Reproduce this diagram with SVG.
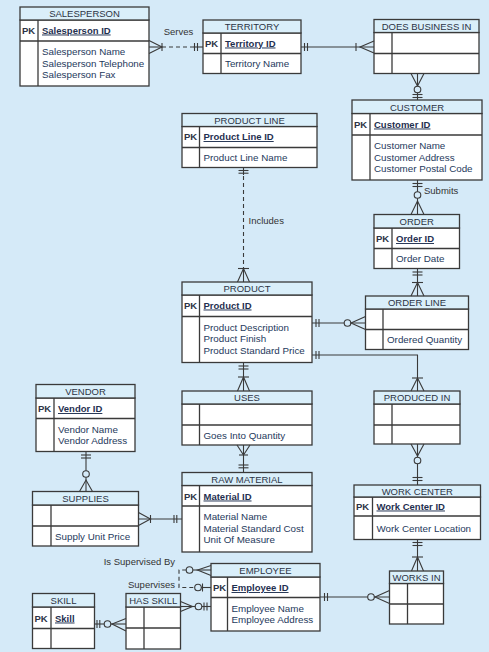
<svg xmlns="http://www.w3.org/2000/svg" width="489" height="652" viewBox="0 0 489 652">
<style>
.bx{fill:#fff;stroke:#3a3a3a;stroke-width:1.3}
.hd{fill:#daeffa;stroke:#3a3a3a;stroke-width:1.3}
.ln{stroke:#3a3a3a;stroke-width:1.3}
text{font-family:"Liberation Sans",Arial,sans-serif}
.h{font-size:9.5px;fill:#2c3345;text-anchor:middle}
.pk{font-size:9.5px;font-weight:bold;fill:#2c3345}
.id{font-size:9.5px;font-weight:bold;fill:#1f3050;text-decoration:underline}
.t{font-size:9.8px;fill:#25395c}
.lb{font-size:9.5px;fill:#333}
.c line,.c path{stroke:#3a3a3a;stroke-width:1.1;fill:none}
.c circle{stroke:#3a3a3a;stroke-width:1.1;fill:#d5eaf8}
.c .d{stroke-dasharray:4 3}
</style>
<rect x="0" y="0" width="489" height="652" fill="#d5eaf8"/>

<g id="salesperson">
<rect class="bx" x="20" y="20" width="129" height="66"/>
<rect class="hd" x="20" y="7" width="129" height="13"/>
<line class="ln" x1="20" y1="41" x2="149" y2="41"/>
<line class="ln" x1="38" y1="20" x2="38" y2="86"/>
<text class="h" x="84.5" y="17">SALESPERSON</text>
<text class="pk" x="22" y="33.5">PK</text>
<text class="id" x="42" y="33.5">Salesperson ID</text>
<text class="t" x="42" y="55">Salesperson Name</text>
<text class="t" x="42" y="66.7">Salesperson Telephone</text>
<text class="t" x="42" y="78.4">Salesperson Fax</text>
</g>

<g id="territory">
<rect class="bx" x="203" y="33" width="98" height="40.5"/>
<rect class="hd" x="203" y="20" width="98" height="13"/>
<line class="ln" x1="203" y1="53.5" x2="301" y2="53.5"/>
<line class="ln" x1="221" y1="33" x2="221" y2="73.5"/>
<text class="h" x="252" y="30">TERRITORY</text>
<text class="pk" x="205" y="46.5">PK</text>
<text class="id" x="225" y="46.5">Territory ID</text>
<text class="t" x="225" y="67">Territory Name</text>
</g>

<g id="does-business-in">
<rect class="bx" x="374" y="32.5" width="105" height="41"/>
<rect class="hd" x="374" y="19.5" width="105" height="13"/>
<line class="ln" x1="374" y1="53.5" x2="479" y2="53.5"/>
<line class="ln" x1="392" y1="32.5" x2="392" y2="73.5"/>
<text class="h" x="426.5" y="29.5">DOES BUSINESS IN</text>
</g>

<g id="customer">
<rect class="bx" x="352" y="113.5" width="130" height="66.5"/>
<rect class="hd" x="352" y="100" width="130" height="13.5"/>
<line class="ln" x1="352" y1="135" x2="482" y2="135"/>
<line class="ln" x1="370" y1="113.5" x2="370" y2="180"/>
<text class="h" x="417" y="110.5">CUSTOMER</text>
<text class="pk" x="354" y="127.5">PK</text>
<text class="id" x="374" y="127.5">Customer ID</text>
<text class="t" x="374" y="149">Customer Name</text>
<text class="t" x="374" y="160.7">Customer Address</text>
<text class="t" x="374" y="172.4">Customer Postal Code</text>
</g>

<g id="product-line">
<rect class="bx" x="182" y="126.5" width="135" height="41"/>
<rect class="hd" x="182" y="113.5" width="135" height="13"/>
<line class="ln" x1="182" y1="147.5" x2="317" y2="147.5"/>
<line class="ln" x1="199.5" y1="126.5" x2="199.5" y2="167.5"/>
<text class="h" x="249.5" y="123.5">PRODUCT LINE</text>
<text class="pk" x="184" y="140">PK</text>
<text class="id" x="203.5" y="140">Product Line ID</text>
<text class="t" x="203.5" y="161">Product Line Name</text>
</g>

<g id="order">
<rect class="bx" x="374" y="228" width="85.5" height="40.5"/>
<rect class="hd" x="374" y="214.5" width="85.5" height="13.5"/>
<line class="ln" x1="374" y1="248.5" x2="459.5" y2="248.5"/>
<line class="ln" x1="392" y1="228" x2="392" y2="268.5"/>
<text class="h" x="416.75" y="225">ORDER</text>
<text class="pk" x="376" y="242">PK</text>
<text class="id" x="396" y="242">Order ID</text>
<text class="t" x="396" y="262">Order Date</text>
</g>

<g id="order-line">
<rect class="bx" x="365.5" y="309" width="103" height="40.5"/>
<rect class="hd" x="365.5" y="296" width="103" height="13"/>
<line class="ln" x1="365.5" y1="329.5" x2="468.5" y2="329.5"/>
<line class="ln" x1="383" y1="309" x2="383" y2="349.5"/>
<text class="h" x="417" y="306">ORDER LINE</text>
<text class="t" x="387" y="343">Ordered Quantity</text>
</g>

<g id="product">
<rect class="bx" x="182" y="295" width="130" height="67.5"/>
<rect class="hd" x="182" y="282" width="130" height="13"/>
<line class="ln" x1="182" y1="316.5" x2="312" y2="316.5"/>
<line class="ln" x1="199.5" y1="295" x2="199.5" y2="362.5"/>
<text class="h" x="247" y="292">PRODUCT</text>
<text class="pk" x="184" y="308.5">PK</text>
<text class="id" x="203.5" y="308.5">Product ID</text>
<text class="t" x="203.5" y="330.5">Product Description</text>
<text class="t" x="203.5" y="342.2">Product Finish</text>
<text class="t" x="203.5" y="353.9">Product Standard Price</text>
</g>

<g id="uses">
<rect class="bx" x="182" y="404" width="130" height="41"/>
<rect class="hd" x="182" y="391" width="130" height="13"/>
<line class="ln" x1="182" y1="425" x2="312" y2="425"/>
<line class="ln" x1="199.5" y1="404" x2="199.5" y2="445"/>
<text class="h" x="247" y="401">USES</text>
<text class="t" x="203.5" y="438.5">Goes Into Quantity</text>
</g>

<g id="produced-in">
<rect class="bx" x="374" y="404" width="86" height="40"/>
<rect class="hd" x="374" y="391" width="86" height="13"/>
<line class="ln" x1="374" y1="425" x2="460" y2="425"/>
<line class="ln" x1="392" y1="404" x2="392" y2="444"/>
<text class="h" x="417" y="401">PRODUCED IN</text>
</g>

<g id="vendor">
<rect class="bx" x="36" y="398" width="99" height="53.5"/>
<rect class="hd" x="36" y="384.5" width="99" height="13.5"/>
<line class="ln" x1="36" y1="418.5" x2="135" y2="418.5"/>
<line class="ln" x1="54" y1="398" x2="54" y2="451.5"/>
<text class="h" x="85.5" y="395">VENDOR</text>
<text class="pk" x="38" y="412">PK</text>
<text class="id" x="58" y="412">Vendor ID</text>
<text class="t" x="58" y="432.5">Vendor Name</text>
<text class="t" x="58" y="444.2">Vendor Address</text>
</g>

<g id="supplies">
<rect class="bx" x="32.5" y="505" width="106" height="41"/>
<rect class="hd" x="32.5" y="491.5" width="106" height="13.5"/>
<line class="ln" x1="32.5" y1="526" x2="138.5" y2="526"/>
<line class="ln" x1="51" y1="505" x2="51" y2="546"/>
<text class="h" x="85.5" y="502">SUPPLIES</text>
<text class="t" x="55" y="539.5">Supply Unit Price</text>
</g>

<g id="raw-material">
<rect class="bx" x="182" y="485.5" width="130" height="66.5"/>
<rect class="hd" x="182" y="472.5" width="130" height="13"/>
<line class="ln" x1="182" y1="506" x2="312" y2="506"/>
<line class="ln" x1="199.5" y1="485.5" x2="199.5" y2="552"/>
<text class="h" x="247" y="482.5">RAW MATERIAL</text>
<text class="pk" x="184" y="499.5">PK</text>
<text class="id" x="203.5" y="499.5">Material ID</text>
<text class="t" x="203.5" y="520">Material Name</text>
<text class="t" x="203.5" y="531.7">Material Standard Cost</text>
<text class="t" x="203.5" y="543.4">Unit Of Measure</text>
</g>

<g id="work-center">
<rect class="bx" x="354" y="497" width="126.5" height="42.5"/>
<rect class="hd" x="354" y="485" width="126.5" height="12"/>
<line class="ln" x1="354" y1="516" x2="480.5" y2="516"/>
<line class="ln" x1="372.5" y1="497" x2="372.5" y2="539.5"/>
<text class="h" x="417.25" y="494.5">WORK CENTER</text>
<text class="pk" x="356" y="509.5">PK</text>
<text class="id" x="376.5" y="509.5">Work Center ID</text>
<text class="t" x="376.5" y="532">Work Center Location</text>
</g>

<g id="works-in">
<rect class="bx" x="389.5" y="583.5" width="54" height="40.5"/>
<rect class="hd" x="389.5" y="571" width="54" height="12.5"/>
<line class="ln" x1="389.5" y1="604" x2="443.5" y2="604"/>
<line class="ln" x1="407.5" y1="583.5" x2="407.5" y2="624"/>
<text class="h" x="416.5" y="580.5">WORKS IN</text>
</g>

<g id="employee">
<rect class="bx" x="211" y="577" width="109" height="54"/>
<rect class="hd" x="211" y="563.5" width="109" height="13.5"/>
<line class="ln" x1="211" y1="597.5" x2="320" y2="597.5"/>
<line class="ln" x1="227.5" y1="577" x2="227.5" y2="631"/>
<text class="h" x="265.5" y="574">EMPLOYEE</text>
<text class="pk" x="213" y="591">PK</text>
<text class="id" x="231.5" y="591">Employee ID</text>
<text class="t" x="231.5" y="611.5">Employee Name</text>
<text class="t" x="231.5" y="623.2">Employee Address</text>
</g>

<g id="has-skill">
<rect class="bx" x="126" y="607" width="54.5" height="42"/>
<rect class="hd" x="126" y="593.5" width="54.5" height="13.5"/>
<line class="ln" x1="126" y1="628" x2="180.5" y2="628"/>
<line class="ln" x1="144" y1="607" x2="144" y2="649"/>
<text class="h" x="153.25" y="604">HAS SKILL</text>
</g>

<g id="skill">
<rect class="bx" x="32.5" y="607" width="62" height="41.5"/>
<rect class="hd" x="32.5" y="593.5" width="62" height="13.5"/>
<line class="ln" x1="32.5" y1="628.5" x2="94.5" y2="628.5"/>
<line class="ln" x1="51" y1="607" x2="51" y2="648.5"/>
<text class="h" x="63.5" y="604">SKILL</text>
<text class="pk" x="34.5" y="621.5">PK</text>
<text class="id" x="55" y="621.5">Skill</text>
</g>

<g id="connectors" class="c">
<!-- Serves -->
<line x1="149" y1="47" x2="162" y2="47"/>
<path d="M149,40.5 L162,47 L149,53.5"/>
<line x1="162" y1="43" x2="162" y2="51"/>
<line class="d" x1="162" y1="47" x2="193" y2="47"/>
<line x1="194.5" y1="43" x2="194.5" y2="51"/>
<line x1="197.5" y1="43" x2="197.5" y2="51"/>
<line x1="193" y1="47" x2="203" y2="47"/>
<!-- Territory - DBI -->
<line x1="301" y1="47" x2="374" y2="47"/>
<line x1="304.5" y1="43" x2="304.5" y2="51"/>
<line x1="307.5" y1="43" x2="307.5" y2="51"/>
<line x1="356" y1="43" x2="356" y2="51"/>
<path d="M374,41 L360,47 L374,53"/>
<!-- DBI - Customer -->
<line x1="417.5" y1="73.5" x2="417.5" y2="100"/>
<path d="M411,73.5 L417.5,86 L424,73.5"/>
<circle cx="417.5" cy="89.5" r="3.3"/>
<line x1="412.5" y1="94.5" x2="422.5" y2="94.5"/>
<line x1="412.5" y1="97.5" x2="422.5" y2="97.5"/>
<!-- Customer - Order -->
<line x1="417.5" y1="180" x2="417.5" y2="214.5"/>
<line x1="412.5" y1="183.5" x2="422.5" y2="183.5"/>
<line x1="412.5" y1="186.5" x2="422.5" y2="186.5"/>
<circle cx="417.5" cy="195" r="3.3"/>
<path d="M411,214.5 L417.5,201 L424,214.5"/>
<!-- Order - Order Line -->
<line x1="417.5" y1="268.5" x2="417.5" y2="296"/>
<line x1="412.5" y1="272" x2="422.5" y2="272"/>
<line x1="412.5" y1="275" x2="422.5" y2="275"/>
<line x1="412" y1="282.5" x2="423" y2="282.5"/>
<path d="M411,296 L417.5,282.5 L424,296"/>
<!-- Product - Order Line -->
<line x1="312" y1="323" x2="365.5" y2="323"/>
<line x1="316" y1="319" x2="316" y2="327"/>
<line x1="319" y1="319" x2="319" y2="327"/>
<circle cx="347.5" cy="323" r="3.3"/>
<path d="M365.5,316.5 L351,323 L365.5,329.5"/>
<!-- Product - Produced In -->
<path d="M312,355 H417.5 V391"/>
<line x1="316" y1="351" x2="316" y2="359"/>
<line x1="319" y1="351" x2="319" y2="359"/>
<line x1="412" y1="378" x2="423" y2="378"/>
<path d="M411,391 L417.5,378 L424,391"/>
<!-- Produced In - Work Center -->
<line x1="417.5" y1="444" x2="417.5" y2="485"/>
<path d="M411,444 L417.5,456 L424,444"/>
<circle cx="417.5" cy="460.5" r="3.3"/>
<line x1="412.5" y1="477.5" x2="422.5" y2="477.5"/>
<line x1="412.5" y1="480.5" x2="422.5" y2="480.5"/>
<!-- Work Center - Works In -->
<line x1="417.5" y1="539.5" x2="417.5" y2="571"/>
<line x1="412.5" y1="542.5" x2="422.5" y2="542.5"/>
<line x1="412.5" y1="545.5" x2="422.5" y2="545.5"/>
<line x1="412" y1="557" x2="423" y2="557"/>
<path d="M411.5,571 L417.5,557 L423.5,571"/>
<!-- Employee - Works In -->
<line x1="320" y1="597" x2="389.5" y2="597"/>
<line x1="324.5" y1="593" x2="324.5" y2="601"/>
<line x1="327.5" y1="593" x2="327.5" y2="601"/>
<circle cx="371" cy="597" r="3.3"/>
<path d="M389.5,590.5 L375,597 L389.5,603.5"/>
<!-- Supervises (recursive) -->
<line x1="192.8" y1="570" x2="211" y2="570"/>
<path d="M211,565.5 L197.5,570 L211,575.5"/>
<circle cx="189.5" cy="570" r="3.3"/>
<path class="d" d="M186.2,570 H179 V587.5 H194.7"/>
<circle cx="198" cy="587.5" r="3.3"/>
<line x1="201.3" y1="587.5" x2="211" y2="587.5"/>
<line x1="202.5" y1="583.5" x2="202.5" y2="591.5"/>
<!-- Has Skill - Employee -->
<line x1="180.5" y1="606.5" x2="211" y2="606.5"/>
<path d="M180.5,601.5 L192.5,606.5 L180.5,611.5"/>
<circle cx="198.5" cy="606.5" r="3.3"/>
<line x1="204" y1="602.5" x2="204" y2="610.5"/>
<line x1="207" y1="602.5" x2="207" y2="610.5"/>
<!-- Skill - Has Skill -->
<line x1="94.5" y1="624" x2="126" y2="624"/>
<line x1="97" y1="620" x2="97" y2="628"/>
<line x1="99.8" y1="620" x2="99.8" y2="628"/>
<circle cx="107.5" cy="624" r="3.3"/>
<path d="M126,618.5 L112,624 L126,631"/>
<!-- Vendor - Supplies -->
<line x1="86" y1="451.5" x2="86" y2="491.5"/>
<line x1="81" y1="455" x2="91" y2="455"/>
<line x1="81" y1="458" x2="91" y2="458"/>
<circle cx="86" cy="474" r="3.3"/>
<path d="M79.5,491.5 L86,480 L92.5,491.5"/>
<!-- Supplies - Raw Material -->
<line x1="138.5" y1="519" x2="182" y2="519"/>
<path d="M138.5,512.5 L150.5,519 L138.5,525.5"/>
<line x1="150.5" y1="515" x2="150.5" y2="523"/>
<line x1="174" y1="515" x2="174" y2="523"/>
<line x1="176.8" y1="515" x2="176.8" y2="523"/>
<!-- Product - Uses -->
<line x1="243.5" y1="362.5" x2="243.5" y2="391"/>
<line x1="238.5" y1="366" x2="248.5" y2="366"/>
<line x1="238.5" y1="369" x2="248.5" y2="369"/>
<line x1="238" y1="377" x2="249" y2="377"/>
<path d="M237.5,391 L243.5,377 L249.5,391"/>
<!-- Uses - Raw Material -->
<line x1="243.5" y1="445" x2="243.5" y2="472.5"/>
<path d="M237,445 L243.5,455 L250,445"/>
<line x1="239" y1="455" x2="248" y2="455"/>
<line x1="238.5" y1="465" x2="248.5" y2="465"/>
<line x1="238.5" y1="467.8" x2="248.5" y2="467.8"/>
<!-- Product Line - Product -->
<line x1="243.5" y1="167.5" x2="243.5" y2="175"/>
<line x1="238.5" y1="170.5" x2="248.5" y2="170.5"/>
<line x1="238.5" y1="173.2" x2="248.5" y2="173.2"/>
<line class="d" x1="243.5" y1="176" x2="243.5" y2="268.5"/>
<line x1="238" y1="268.5" x2="249" y2="268.5"/>
<line x1="243.5" y1="268.5" x2="243.5" y2="282"/>
<path d="M237.5,282 L243.5,268.5 L249.5,282"/>
</g>

<g id="labels">
<text class="lb" x="178.5" y="35" text-anchor="middle">Serves</text>
<text class="lb" x="424" y="194">Submits</text>
<text class="lb" x="248.5" y="224">Includes</text>
<text class="lb" x="175" y="565" text-anchor="end">Is Supervised By</text>
<text class="lb" x="175" y="588" text-anchor="end">Supervises</text>
</g>
</svg>
